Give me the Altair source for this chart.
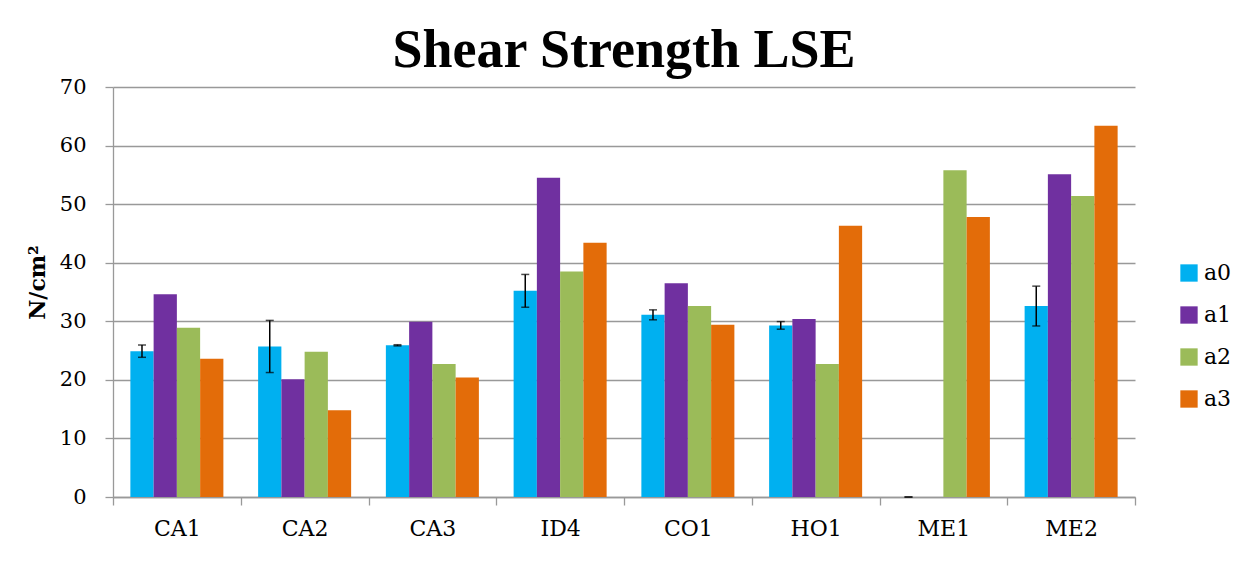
import altair as alt
import pandas as pd

categories = ["CA1", "CA2", "CA3", "ID4", "CO1", "HO1", "ME1", "ME2"]
series = ["a0", "a1", "a2", "a3"]
colors = ["#00B0F0", "#7030A0", "#9BBB59", "#E36C09"]

a0 = [24.9, 25.7, 25.9, 35.2, 31.1, 29.3, 0.0, 32.6]
a1 = [34.6, 20.1, 29.9, 54.5, 36.5, 30.4, None, 55.1]
a2 = [28.9, 24.8, 22.7, 38.5, 32.6, 22.7, 55.8, 51.4]
a3 = [23.6, 14.8, 20.4, 43.4, 29.4, 46.3, 47.8, 63.4]
a0_err = [1.05, 4.45, 0.1, 2.8, 0.85, 0.65, 0.0, 3.4]

rows = []
for s, vals in zip(series, [a0, a1, a2, a3]):
    for c, v in zip(categories, vals):
        if v is not None:
            rows.append({"cat": c, "series": s, "value": v})
df = pd.DataFrame(rows)

err_rows = []
for c, v, e in zip(categories, a0, a0_err):
    err_rows.append({"cat": c, "series": "a0", "lo": v - e, "hi": v + e})
edf = pd.DataFrame(err_rows)

SERIF = "DejaVu Serif"

x_enc = alt.X("cat:N", sort=categories, title=None,
              scale=alt.Scale(paddingInner=0, paddingOuter=0),
              axis=alt.Axis(labelAngle=0, labelFont=SERIF, labelFontSize=22,
                            labelColor="black", labelPadding=13, tickSize=8,
                            tickBand="extent", tickColor="#999999",
                            domainColor="#999999", domainWidth=1.3, tickWidth=1.3,
                            grid=False))
xoff = alt.XOffset("series:N", sort=series,
                   scale=alt.Scale(paddingInner=0, paddingOuter=0.747))

bars = alt.Chart(df).mark_bar().encode(
    x=x_enc,
    xOffset=xoff,
    y=alt.Y("value:Q", title="N/cm²",
            scale=alt.Scale(domain=[0, 70], nice=False),
            axis=alt.Axis(values=list(range(0, 71, 10)), labelFont=SERIF,
                          labelFontSize=21, labelColor="black", labelPadding=19,
                          tickSize=8, tickColor="#999999", domainColor="#999999",
                          domainWidth=1.3, tickWidth=1.3,
                          gridColor="#999999", gridWidth=1.3,
                          titleFont=SERIF, titleFontSize=22, titleFontWeight="bold",
                          titleColor="black", titleAngle=-90, titleX=-76, titleY=195,
                          titleAlign="center", titleBaseline="middle")),
    color=alt.Color("series:N", sort=series,
                    scale=alt.Scale(domain=series, range=colors),
                    legend=alt.Legend(title=None, orient="none", legendX=1065, legendY=175,
                                      symbolType="square", symbolSize=300,
                                      symbolStrokeWidth=0,
                                      labelFont=SERIF, labelFontSize=22,
                                      labelColor="black", rowPadding=20,
                                      labelOffset=4)),
)

rules = alt.Chart(edf).mark_rule(color="black", strokeWidth=1.5).encode(
    x=alt.X("cat:N", sort=categories),
    xOffset=xoff,
    y="lo:Q",
    y2="hi:Q",
)
cap_lo = alt.Chart(edf).mark_tick(color="black", thickness=1.5, size=8, orient="horizontal").encode(
    x=alt.X("cat:N", sort=categories),
    xOffset=xoff,
    y="lo:Q",
)
cap_hi = alt.Chart(edf).mark_tick(color="black", thickness=1.5, size=8, orient="horizontal").encode(
    x=alt.X("cat:N", sort=categories),
    xOffset=xoff,
    y="hi:Q",
)

chart = alt.layer(bars, rules, cap_lo, cap_hi).properties(
    width=1022,
    height=410,
    title=alt.TitleParams("Shear Strength LSE", font="Liberation Serif", fontSize=54,
                          fontWeight="bold", color="black", anchor="middle", offset=14,
                          dy=16),
    autosize=alt.AutoSizeParams(type="none"),
    padding={"left": 105, "top": 79, "right": 100, "bottom": 70},
).configure_view(stroke=None).configure_axisX(grid=False)

chart.save("out.html", embed_options={"renderer": "svg", "actions": False})
